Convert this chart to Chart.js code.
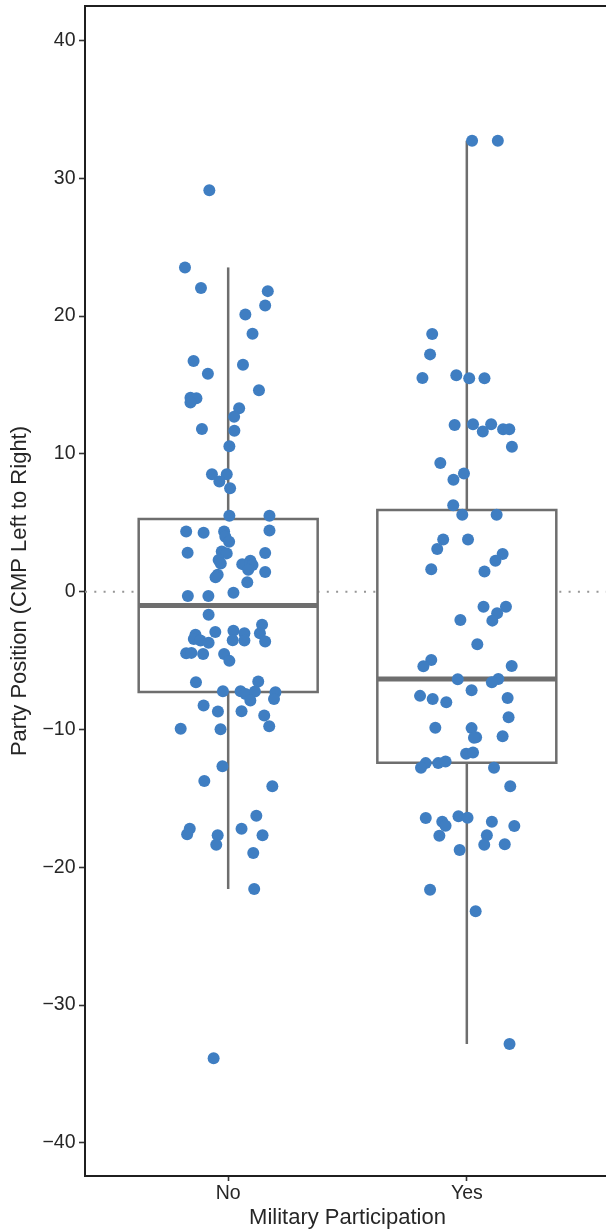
<!DOCTYPE html>
<html>
<head>
<meta charset="utf-8">
<script src="https://cdn.jsdelivr.net/npm/chart.js@4.4.1/dist/chart.umd.min.js"></script>
<style>
  html, body { margin: 0; padding: 0; background: #fff; overflow: hidden; }
  #wrap { width: 606px; height: 1232px; overflow: hidden; position: relative; }
  canvas { display: block; }
</style>
</head>
<body>
<div id="wrap"><canvas id="chart" width="616" height="1232" style="width:616px;height:1232px"></canvas></div>
<script>
// Groups on the x axis (positions 1 and 2)
const categories = ['No', 'Yes'];
const yTicks = [-40, -30, -20, -10, 0, 10, 20, 30, 40];

// Box summary per group
const boxQ1 = [-7.27, -12.42];
const boxMedian = [-1.01, -6.33];
const boxQ3 = [5.27, 5.92];
const whiskerLow = [-21.57, -32.83];
const whiskerHigh = [23.53, 32.73];

// Party positions, group "No"
const noY = [
  29.13, 23.53, 22.03, 21.81, 20.77, 20.12, 18.72, 16.74, 16.47, 15.82,
  14.61, 14.08, 14.03, 13.72, 13.31, 12.70, 11.81, 11.67, 10.56, 8.53,
  8.53, 7.99, 7.51, 5.51, 5.51, 4.37, 4.28, 4.37, 4.44, 3.99,
  3.62, 2.83, 2.92, 2.78, 2.80, 2.30, 2.05, 2.00, 2.25, 1.93,
  1.59, 1.43, 1.23, 1.04, 0.68, -0.07, -0.31, -0.31, -1.67, -3.12,
  -2.92, -2.83, -2.39, -3.02, -3.02, -3.43, -3.55, -3.70, -3.53, -3.55,
  -3.62, -4.47, -4.44, -4.52, -4.52, -5.02, -6.57, -6.52, -7.22, -7.22,
  -7.42, -7.25, -7.29, -7.90, -7.78, -8.26, -8.70, -8.67, -8.99, -9.76,
  -9.95, -9.98, -12.66, -13.74, -14.11, -16.26, -17.20, -17.60, -17.20, -17.68,
  -17.68, -18.36, -18.96, -21.57, -33.86
];
// Horizontal jitter of each "No" point around its group position
const noJitter = [
  -0.079, -0.181, -0.114, 0.166, 0.155, 0.072, 0.102, -0.145, 0.062, -0.085,
  0.129, -0.158, -0.133, -0.158, 0.046, 0.025, -0.110, 0.026, 0.005, -0.068,
  -0.006, -0.037, 0.008, 0.005, 0.173, -0.176, -0.103, -0.017, 0.173, -0.012,
  0.004, -0.170, -0.027, -0.006, 0.155, -0.040, -0.031, 0.059, 0.093, 0.102,
  0.084, 0.155, -0.044, -0.053, 0.080, 0.022, -0.169, -0.083, -0.082, -0.137,
  -0.054, 0.022, 0.142, 0.068, 0.133, -0.144, -0.116, -0.082, 0.019, 0.068,
  0.155, -0.176, -0.154, -0.105, -0.017, 0.005, -0.135, 0.126, -0.022, 0.052,
  0.073, 0.112, 0.198, 0.093, 0.192, -0.103, -0.043, 0.056, 0.151, 0.172,
  -0.199, -0.032, -0.024, -0.100, 0.185, 0.118, -0.161, -0.172, 0.056, -0.044,
  0.144, -0.050, 0.105, 0.109, -0.061
];

// Party positions, group "Yes"
const yesY = [
  32.73, 32.73, 18.70, 17.22, 15.51, 15.70, 15.49, 15.49, 12.10, 12.15,
  12.15, 11.62, 11.79, 11.79, 10.51, 9.33, 8.57, 8.12, 6.28, 5.58,
  5.58, 3.79, 3.79, 3.09, 2.73, 2.25, 1.62, 1.47, -1.09, -1.09,
  -1.57, -2.10, -2.05, -3.82, -4.95, -5.41, -5.39, -6.35, -6.33, -6.57,
  -7.15, -7.56, -7.78, -8.02, -7.71, -9.11, -9.88, -9.90, -10.56, -10.60,
  -10.49, -11.76, -11.67, -12.44, -12.78, -12.44, -12.32, -12.78, -14.11, -16.43,
  -16.69, -16.98, -16.30, -16.40, -16.69, -17.00, -17.68, -18.36, -17.71, -18.33,
  -18.74, -21.62, -23.19, -32.83
];
const yesJitter = [
  0.022, 0.130, -0.145, -0.154, -0.186, -0.044, 0.010, 0.074, -0.051, 0.026,
  0.102, 0.067, 0.152, 0.178, 0.189, -0.111, -0.012, -0.056, -0.057, -0.019,
  0.125, -0.099, 0.005, -0.124, 0.150, 0.120, -0.149, 0.074, 0.070, 0.164,
  0.127, 0.107, -0.027, 0.044, -0.149, -0.182, 0.188, -0.038, 0.132, 0.105,
  0.020, -0.196, -0.143, -0.086, 0.171, 0.175, -0.132, 0.020, 0.039, 0.030,
  0.150, -0.003, 0.026, -0.172, -0.192, -0.120, -0.089, 0.114, 0.182, -0.172,
  -0.103, -0.089, -0.035, 0.003, 0.105, 0.199, 0.084, 0.073, -0.115, 0.159,
  -0.030, -0.154, 0.037, 0.179
];

const groupY = [noY, yesY];
const groupJitter = [noJitter, yesJitter];

const BOX_HALF = 0.375;     // half of the box width in axis units
const X_MIN = 0.4, X_MAX = 2.6;
const Y_MIN = -42.4, Y_MAX = 42.5;

const BOX_COLOR = '#6e6e6e';
const POINT_COLOR = '#3f7ec2';
const AXIS_COLOR = '#1f1f1f';
const TEXT_COLOR = '#262626';
const FONT = '"Liberation Sans", Arial, Helvetica, sans-serif';

const datasets = [];

// Jittered observations, drawn on top of everything
categories.forEach((cat, i) => {
  datasets.push({
    label: cat,
    order: 0,
    data: groupY[i].map((v, k) => ({ x: i + 1 + groupJitter[i][k], y: v })),
    pointRadius: 6,
    pointHoverRadius: 6,
    pointBorderWidth: 0,
    backgroundColor: POINT_COLOR,
    borderColor: POINT_COLOR,
    showLine: false
  });
});

// Medians
categories.forEach((cat, i) => {
  const c = i + 1;
  datasets.push({
    order: 1,
    data: [{ x: c - BOX_HALF, y: boxMedian[i] }, { x: c + BOX_HALF, y: boxMedian[i] }],
    showLine: true,
    borderColor: BOX_COLOR,
    borderWidth: 5,
    borderCapStyle: 'butt',
    pointRadius: 0,
    fill: false
  });
});

// Boxes (white filled rectangles from Q1 to Q3)
categories.forEach((cat, i) => {
  const c = i + 1;
  datasets.push({
    order: 2,
    data: [
      { x: c - BOX_HALF, y: boxQ1[i] },
      { x: c + BOX_HALF, y: boxQ1[i] },
      { x: c + BOX_HALF, y: boxQ3[i] },
      { x: c - BOX_HALF, y: boxQ3[i] },
      { x: c - BOX_HALF, y: boxQ1[i] }
    ],
    showLine: true,
    borderColor: BOX_COLOR,
    borderWidth: 2.5,
    borderCapStyle: 'square',
    borderJoinStyle: 'miter',
    backgroundColor: '#ffffff',
    fill: 'shape',
    pointRadius: 0,
    tension: 0
  });
});

// Whiskers
categories.forEach((cat, i) => {
  const c = i + 1;
  [[boxQ3[i], whiskerHigh[i]], [boxQ1[i], whiskerLow[i]]].forEach(([a, b]) => {
    datasets.push({
      order: 3,
      data: [{ x: c, y: a }, { x: c, y: b }],
      showLine: true,
      borderColor: BOX_COLOR,
      borderWidth: 2.5,
      borderCapStyle: 'butt',
      pointRadius: 0,
      fill: false
    });
  });
});

// Dotted reference line at zero
datasets.push({
  order: 4,
  data: [{ x: X_MIN, y: 0 }, { x: X_MAX, y: 0 }],
  showLine: true,
  borderColor: '#969696',
  borderWidth: 2,
  borderDash: [2, 7.3],
  borderCapStyle: 'butt',
  pointRadius: 0,
  fill: false
});

const fmt = v => (v < 0 ? '\u2212' + Math.abs(v) : String(v));

new Chart(document.getElementById('chart'), {
  type: 'scatter',
  data: { datasets },
  options: {
    responsive: false,
    devicePixelRatio: 1,
    animation: false,
    events: [],
    layout: { padding: { top: 0, right: 1, bottom: 0, left: 0 } },
    plugins: {
      legend: { display: false },
      tooltip: { enabled: false }
    },
    scales: {
      x: {
        type: 'linear',
        position: 'bottom',
        min: X_MIN,
        max: X_MAX,
        afterBuildTicks: axis => { axis.ticks = categories.map((c, i) => ({ value: i + 1 })); },
        afterFit: axis => {
          axis.height = 56;
          axis.paddingLeft = 0;
          axis.paddingRight = 0;
        },
        ticks: {
          callback: v => categories[v - 1],
          color: TEXT_COLOR,
          font: { family: FONT, size: 19.5 },
          padding: 0.5,
          maxRotation: 0,
          autoSkip: false
        },
        grid: {
          drawOnChartArea: false,
          drawTicks: true,
          tickLength: 5,
          tickColor: '#333333',
          tickWidth: 1.6
        },
        border: { display: true, color: AXIS_COLOR, width: 2 },
        title: {
          display: true,
          text: 'Military Participation',
          color: TEXT_COLOR,
          font: { family: FONT, size: 22 },
          padding: { top: 0, bottom: 1 }
        }
      },
      xTop: {
        type: 'linear',
        position: 'top',
        min: X_MIN,
        max: X_MAX,
        afterFit: axis => {
          axis.height = 5;
          axis.paddingLeft = 0;
          axis.paddingRight = 0;
        },
        ticks: { display: false },
        grid: { display: false, drawTicks: false },
        border: { display: true, color: AXIS_COLOR, width: 2 }
      },
      y: {
        type: 'linear',
        position: 'left',
        min: Y_MIN,
        max: Y_MAX,
        afterBuildTicks: axis => { axis.ticks = yTicks.map(v => ({ value: v })); },
        afterFit: axis => {
          axis.width = 85;
          axis.paddingTop = 0;
          axis.paddingBottom = 0;
        },
        ticks: {
          callback: v => fmt(v),
          color: TEXT_COLOR,
          font: { family: FONT, size: 19.5 },
          padding: 3.5
        },
        grid: {
          drawOnChartArea: false,
          drawTicks: true,
          tickLength: 6,
          tickColor: '#333333',
          tickWidth: 1.6
        },
        border: { display: true, color: AXIS_COLOR, width: 2 },
        title: {
          display: true,
          text: 'Party Position (CMP Left to Right)',
          color: TEXT_COLOR,
          font: { family: FONT, size: 22 },
          padding: { top: 7, bottom: 0 }
        }
      }
    }
  }
});
</script>
</body>
</html>
